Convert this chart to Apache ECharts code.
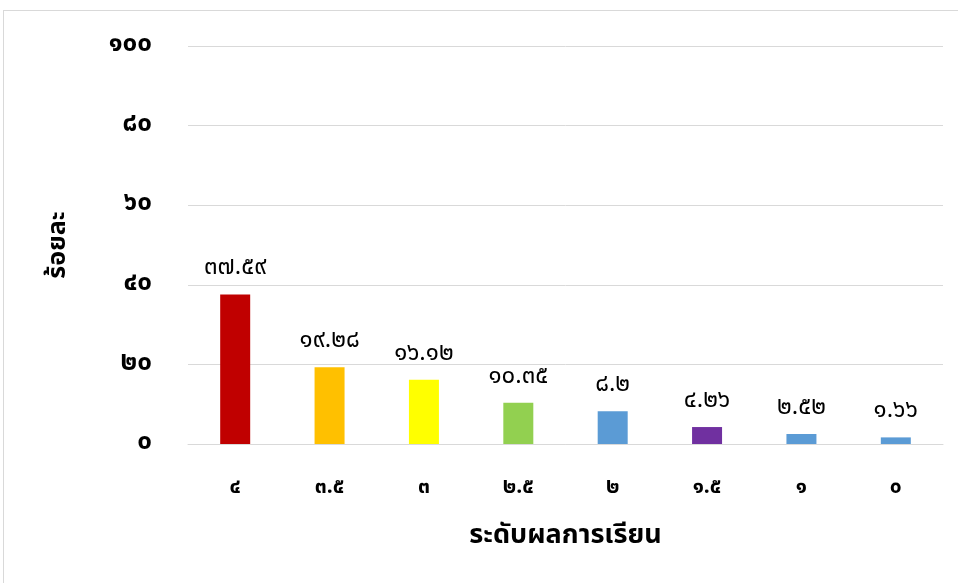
<!DOCTYPE html>
<html><head><meta charset="utf-8">
<script src="https://cdn.jsdelivr.net/npm/echarts@6/dist/echarts.min.js"></script>
<style>
html,body{margin:0;padding:0;background:#fff;}
#frame{position:absolute;left:3px;top:10px;width:970px;height:600px;border:1px solid #d9d9d9;box-sizing:border-box;}
#c{position:absolute;left:0;top:0;width:958px;height:583px;}
</style></head>
<body><div id="frame"></div><div id="c"></div>
<script>
const categories = ['๔','๓.๕','๓','๒.๕','๒','๑.๕','๑','๐'];
const values = [37.59, 19.28, 16.12, 10.35, 8.2, 4.26, 2.52, 1.66];
const barColors = ['#C00000','#FFC000','#FFFF00','#92D050','#5B9BD5','#7030A0','#5B9BD5','#5B9BD5'];
const yTickLabels = ['๐','๒๐','๔๐','๖๐','๘๐','๑๐๐'];
const xTitle = 'ระดับผลการเรียน';
const yTitle = 'ร้อยละ';

const thaiDigits = '๐๑๒๓๔๕๖๗๘๙';
function toThai(s){ return String(s).replace(/[0-9]/g, d => thaiDigits[+d]); }

const font = "'Noto Sans Thai','Noto Sans','Leelawadee UI',Tahoma,sans-serif";
const chart = echarts.init(document.getElementById('c'));
chart.setOption({
  animation:false,
  grid:{left:188,right:15,top:46,bottom:139,containLabel:false},
  xAxis:{
    type:'category', data:categories,
    axisLine:{lineStyle:{color:'#d9d9d9',width:1}},
    axisTick:{show:false},
    axisLabel:{color:'#000',fontWeight:'bold',fontSize:21,margin:34,fontFamily:font},
    name:xTitle, nameLocation:'middle', nameGap:80,
    nameTextStyle:{color:'#000',fontWeight:'bold',fontSize:27,fontFamily:font}
  },
  yAxis:{
    type:'value', min:0, max:100, interval:20,
    axisLine:{show:false}, axisTick:{show:false},
    splitLine:{lineStyle:{color:'#d9d9d9',width:1}},
    axisLabel:{color:'#000',fontWeight:'bold',fontSize:26,margin:36,fontFamily:font,
      formatter:(v)=>yTickLabels[Math.round(v/20)]},
    name:yTitle, nameLocation:'middle', nameGap:116, nameRotate:90,
    nameTextStyle:{color:'#000',fontWeight:'bold',fontSize:25,fontFamily:font}
  },
  series:[{
    type:'bar', barWidth:30,
    data:values.map((v,i)=>({value:v,itemStyle:{color:barColors[i]}})),
    label:{show:true,position:'top',distance:13,color:'#000',fontSize:24,fontFamily:font,
      formatter:(p)=>toThai(p.value)}
  }]
});
</script></body></html>
